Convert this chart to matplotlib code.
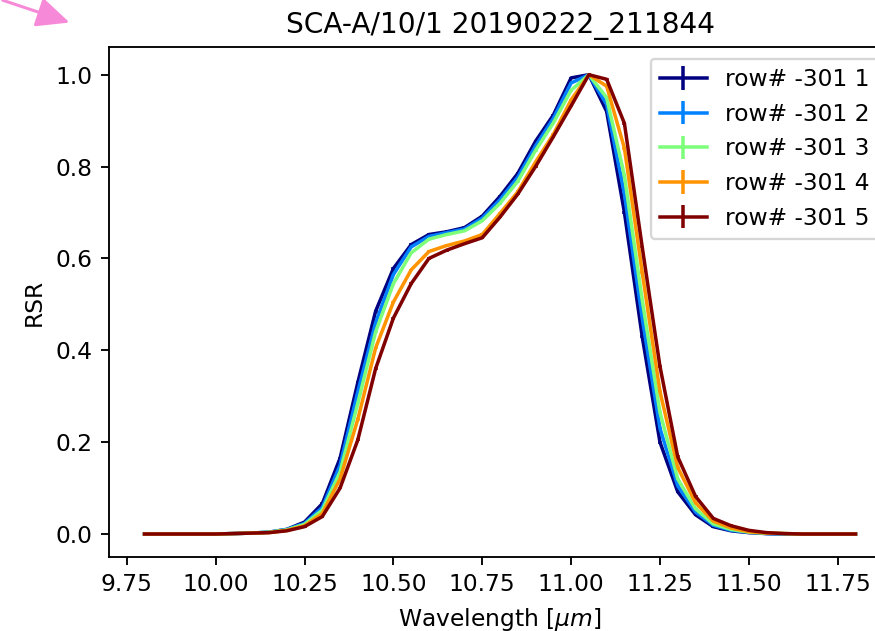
import matplotlib
matplotlib.use("Agg")
import matplotlib.pyplot as plt
import numpy as np

wavelength = [9.80, 9.85, 9.90, 9.95, 10.00, 10.05, 10.10, 10.15, 10.20, 10.25,
              10.30, 10.35, 10.40, 10.45, 10.50, 10.55, 10.60, 10.65, 10.70, 10.75,
              10.80, 10.85, 10.90, 10.95, 11.00, 11.05, 11.10, 11.15, 11.20, 11.25,
              11.30, 11.35, 11.40, 11.45, 11.50, 11.55, 11.60, 11.65, 11.70, 11.75, 11.80]

rsr_row1 = [0, 0, 0, 0, 0, 0.001, 0.002, 0.004, 0.010, 0.026,
            0.066, 0.165, 0.330, 0.485, 0.578, 0.630, 0.652, 0.658, 0.667, 0.692,
            0.735, 0.785, 0.855, 0.912, 0.993, 1.000, 0.920, 0.700, 0.430, 0.200,
            0.092, 0.042, 0.016, 0.007, 0.003, 0.001, 0, 0, 0, 0, 0]
rsr_row2 = [0, 0, 0, 0, 0, 0.001, 0.002, 0.004, 0.010, 0.023,
            0.058, 0.150, 0.310, 0.460, 0.565, 0.625, 0.648, 0.656, 0.664, 0.688,
            0.728, 0.777, 0.845, 0.905, 0.982, 1.000, 0.935, 0.740, 0.470, 0.230,
            0.105, 0.048, 0.019, 0.008, 0.004, 0.001, 0, 0, 0, 0, 0]
rsr_row3 = [0, 0, 0, 0, 0, 0.001, 0.002, 0.004, 0.009, 0.021,
            0.052, 0.135, 0.285, 0.440, 0.545, 0.612, 0.642, 0.652, 0.660, 0.682,
            0.720, 0.768, 0.835, 0.895, 0.966, 1.000, 0.950, 0.780, 0.510, 0.265,
            0.120, 0.055, 0.022, 0.010, 0.004, 0.002, 0.001, 0, 0, 0, 0]
rsr_row4 = [0, 0, 0, 0, 0, 0.001, 0.002, 0.003, 0.008, 0.018,
            0.045, 0.120, 0.250, 0.405, 0.505, 0.575, 0.615, 0.628, 0.638, 0.652,
            0.698, 0.745, 0.810, 0.870, 0.945, 1.000, 0.975, 0.840, 0.570, 0.310,
            0.145, 0.068, 0.028, 0.013, 0.005, 0.002, 0.001, 0, 0, 0, 0]
rsr_row5 = [0, 0, 0, 0, 0, 0.001, 0.002, 0.003, 0.007, 0.016,
            0.038, 0.100, 0.205, 0.360, 0.470, 0.545, 0.600, 0.618, 0.632, 0.645,
            0.690, 0.740, 0.800, 0.865, 0.932, 1.000, 0.990, 0.894, 0.625, 0.365,
            0.168, 0.082, 0.034, 0.018, 0.008, 0.003, 0.001, 0, 0, 0, 0]
rsr_err = 0.003

rows = [rsr_row1, rsr_row2, rsr_row3, rsr_row4, rsr_row5]
labels = ['row# -301 1', 'row# -301 2', 'row# -301 3', 'row# -301 4', 'row# -301 5']

colors = plt.cm.jet(np.linspace(0, 1, len(rows)))

DPI = 168
fig = plt.figure(figsize=(875 / DPI, 631 / DPI), dpi=DPI)
# axes runs past the right edge, as in the cropped original
ax = fig.add_axes([0.1246, 0.1173, 0.8937, 0.808])

for vals, lab, c in zip(rows, labels, colors):
    ax.errorbar(wavelength, vals, yerr=rsr_err, color=c, label=lab)

ax.set_xlim(9.7, 11.9)
ax.set_ylim(-0.05, 1.06)
ax.set_xticks([9.75, 10.0, 10.25, 10.5, 10.75, 11.0, 11.25, 11.5, 11.75])
ax.set_xticklabels(['9.75', '10.00', '10.25', '10.50', '10.75', '11.00', '11.25', '11.50', '11.75'])
ax.set_xlabel('Wavelength [$\\mu m$]')
ax.set_ylabel('RSR')
ax.set_title('SCA-A/10/1 20190222_211844')
ax.legend(loc='upper right')

# pink pointer arrow in the top-left corner
ax.annotate('', xy=(74 / 875, 1 - 24 / 631), xytext=(-0.002, 1.002),
            xycoords='figure fraction', textcoords='figure fraction',
            arrowprops=dict(arrowstyle='-|>,head_length=1.2,head_width=0.55',
                            color='#f78ad8', lw=1.3))

fig.savefig('out.png', dpi=DPI)
